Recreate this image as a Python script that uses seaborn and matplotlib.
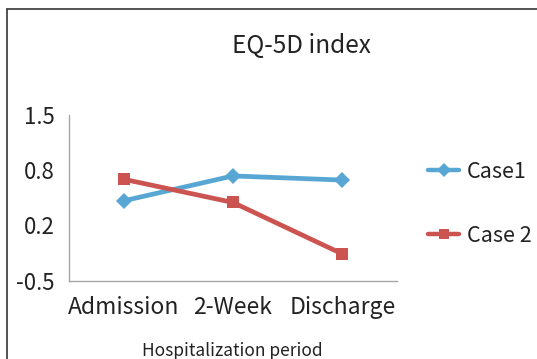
import matplotlib
matplotlib.use("Agg")
import matplotlib.pyplot as plt
from matplotlib.lines import Line2D
import seaborn as sns
import pandas as pd
import numpy as np

# ---- data ----
periods = ["Admission", "2-Week", "Discharge"]
case1 = [0.46, 0.76, 0.71]
case2 = [0.72, 0.44, -0.18]
series_names = ["Case1", "Case 2"]
y_ticks = [-0.5, 0.1667, 0.8333, 1.5]
y_tick_labels = ["-0.5", "0.2", "0.8", "1.5"]
title_text = "EQ-5D index"
xlabel_text = "Hospitalization period"

df = pd.DataFrame({
    "period": periods * 2,
    "value": case1 + case2,
    "series": [series_names[0]] * 3 + [series_names[1]] * 3,
})

sns.set_theme(style="white")
plt.rcParams["font.family"] = ["Noto Sans CJK KR", "DejaVu Sans"]

W, H = 537, 359
fig = plt.figure(figsize=(W / 100, H / 100), dpi=100)
fig.patch.set_facecolor("white")
ax = fig.add_axes([69 / W, 1 - 280.5 / H, 328 / W, (280.5 - 114.5) / H])

palette = {"Case1": "#58a6d3", "Case 2": "#cc5450"}
markers = {"Case1": "D", "Case 2": "s"}
sns.lineplot(data=df, x="period", y="value", hue="series", style="series",
             markers=markers, dashes=False, palette=palette, linewidth=3.4,
             markersize=8.5, markeredgewidth=0, ax=ax, sort=False, legend=False)

ax.set_xlim(-0.5, 2.5)
ax.set_ylim(-0.5, 1.5)
ax.set_yticks(y_ticks)
ax.set_yticklabels(y_tick_labels)
ax.set_xlabel("")
ax.set_ylabel("")
for s in ["top", "right"]:
    ax.spines[s].set_visible(False)
for s in ["left", "bottom"]:
    ax.spines[s].set_color("#a6a6a6")
    ax.spines[s].set_linewidth(1.0)
ax.tick_params(axis="y", direction="inout", length=5, width=1, color="#a6a6a6",
               labelsize=16, labelcolor="#222222", pad=8)
ax.tick_params(axis="x", length=0, labelsize=16.5, labelcolor="#222222", pad=11)
ax.set_facecolor("white")

fig.text(301 / W, 1 - 46 / H, title_text, ha="center", va="center",
         fontsize=17.5, color="#222222")
fig.text(232 / W, 1 - 351 / H, xlabel_text, ha="center", va="center",
         fontsize=12.5, color="#222222")

handles = [Line2D([], [], color=palette[n], marker=markers[n], lw=3.2,
                  markersize=7, markeredgewidth=0) for n in series_names]
fig.legend(handles, series_names, loc="upper left",
           bbox_to_anchor=(428 / W, 1 - 161 / H), frameon=False,
           fontsize=15.5, labelspacing=1.95, handlelength=1.45,
           handletextpad=0.35, borderpad=0, borderaxespad=0,
           labelcolor="#222222")

# outer border (left and top edges visible)
fig.add_artist(Line2D([6.5 / W, 6.5 / W], [0, 1 - 8.5 / H],
                      transform=fig.transFigure, color="#444444", lw=1.3))
fig.add_artist(Line2D([6.5 / W, 1], [1 - 8.5 / H, 1 - 8.5 / H],
                      transform=fig.transFigure, color="#444444", lw=1.3))

fig.savefig("out.png", dpi=100, facecolor="white")
